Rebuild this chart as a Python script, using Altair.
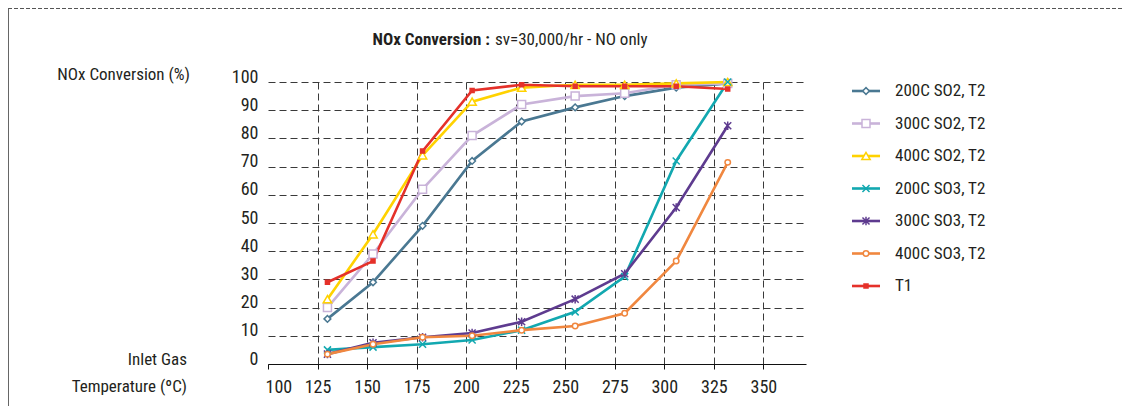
import altair as alt
import pandas as pd

series = ["200C SO2, T2", "300C SO2, T2", "400C SO2, T2",
          "200C SO3, T2", "300C SO3, T2", "400C SO3, T2", "T1"]
temps = [130, 153, 178, 203, 228, 255, 280, 306, 332]
so2_200 = [16, 29, 49, 72, 86, 91, 95, 98, 99.5]
so2_300 = [20, 39, 62, 81, 92, 95, 96, 99, 99.5]
so2_400 = [23, 46, 74, 93, 98, 99, 99, 99.5, 100]
so3_200 = [5, 6, 7, 8.5, 12, 18.5, 31, 72, 100]
so3_300 = [3.5, 7.5, 9.5, 11, 15, 23, 32, 55.5, 84.5]
so3_400 = [3.5, 7, 9.5, 10, 12, 13.5, 18, 36.5, 71.5]
t1 = [29, 36.5, 75.5, 97, 99, 98.5, 98.5, 98.5, 97.5]
x_ticks = [100, 125, 150, 175, 200, 225, 250, 275, 300, 325, 350]
y_ticks = [0, 10, 20, 30, 40, 50, 60, 70, 80, 90, 100]

colors = ["#4a7892", "#c9b3d9", "#ffd200", "#12a8b0", "#5e3b8f", "#f0873f", "#e5312a"]
X_PATH = "M-1,-1L1,1M-1,1L1,-1"
AST_PATH = "M-1,-1L1,1M-1,1L1,-1M0,-1.2L0,1.2"
shapes = ["diamond", "square", "triangle-up", X_PATH, AST_PATH, "circle", "square"]
fills = ["white", "white", "white", "white", "white", "white", "#e5312a"]
sizes = [45, 64, 70, 50, 50, 30, 16]

FONT = "Roboto Condensed, Liberation Sans Narrow, Roboto, sans-serif"
TXT = "#231f20"
FS = 17
AFS = 18

values = [so2_200, so2_300, so2_400, so3_200, so3_300, so3_400, t1]
rows = []
for s, vals, sz in zip(series, values, sizes):
    for t, v in zip(temps, vals):
        rows.append({"series": s, "temp": t, "value": v, "msize": sz})
df = pd.DataFrame(rows)
leg_df = pd.DataFrame({"series": series, "msize": sizes})

W, H = 538, 282
xs = alt.Scale(domain=[100, 371.5], nice=False, zero=False)
ys = alt.Scale(domain=[0, 100], nice=False)
col_s = alt.Scale(domain=series, range=colors)
shp_s = alt.Scale(domain=series, range=shapes)
fill_s = alt.Scale(domain=series, range=fills)

X = alt.X("temp:Q", scale=xs, title=None,
          axis=alt.Axis(values=x_ticks, grid=True, gridDash=[7, 4], gridColor="#3a3a3a",
                        gridOpacity={"condition": {"test": "datum.value === 100", "value": 0}, "value": 1},
                        labelOffset={"condition": {"test": "datum.value === 100", "value": -3}, "value": 0},
                        domainColor="#111", tickColor="#111", tickSize=5, labelPadding=9,
                        labelFontSize=AFS))
Y = alt.Y("value:Q", scale=ys, title=None,
          axis=alt.Axis(values=y_ticks, grid=True, gridDash=[7, 4], gridColor="#3a3a3a",
                        domain=False, ticks=False, labelPadding=10, labelOffset=-5,
                        labelFontSize=AFS))

base = alt.Chart(df)
lines = base.mark_line(strokeWidth=2.6).encode(
    x=X, y=Y,
    color=alt.Color("series:N", scale=col_s, legend=None),
)
points = base.mark_point(opacity=1, fillOpacity=1, strokeWidth=1.5).encode(
    x=X, y=Y,
    shape=alt.Shape("series:N", scale=shp_s, legend=None),
    fill=alt.Fill("series:N", scale=fill_s, legend=None),
    stroke=alt.Stroke("series:N", scale=col_s, legend=None),
    size=alt.Size("msize:Q", scale=None),
)
main = alt.layer(lines, points)

LY = alt.Y("series:N", scale=alt.Scale(type="point", domain=series, range=[9, 204], padding=0), axis=None)
leg_base = alt.Chart(leg_df)
leg_rule = leg_base.mark_rule(strokeWidth=2.6).encode(
    x=alt.value(584), x2=alt.value(612), y=LY,
    color=alt.Color("series:N", scale=col_s, legend=None),
)
leg_pt = leg_base.mark_point(opacity=1, fillOpacity=1, strokeWidth=1.5).encode(
    x=alt.value(598), y=LY,
    shape=alt.Shape("series:N", scale=shp_s, legend=None),
    fill=alt.Fill("series:N", scale=fill_s, legend=None),
    stroke=alt.Stroke("series:N", scale=col_s, legend=None),
    size=alt.Size("msize:Q", scale=None),
)
leg_txt = leg_base.mark_text(align="left", baseline="middle", font=FONT, fontSize=FS, color=TXT).encode(
    x=alt.value(627), y=LY, text="series:N",
)
legend = alt.layer(leg_rule, leg_pt, leg_txt)


def label(txt, x, y, align="left", bold=False, size=FS):
    return alt.Chart(pd.DataFrame({"t": [txt]})).mark_text(
        align=align, baseline="middle", font=FONT, fontSize=size,
        fontWeight="bold" if bold else "normal", color=TXT,
    ).encode(x=alt.value(x), y=alt.value(y), text="t:N")


title_b = label("NOx Conversion :", 222, -42, align="right", bold=True)
title_r = label("sv=30,000/hr - NO only", 227, -42, align="left")
ytitle = label("NOx Conversion (%)", -78, -7, align="right")
xt1 = label("Inlet Gas", -81, 278, align="right")
xt2 = label("Temperature (ºC)", -81, 305, align="right")

one = pd.DataFrame({"a": [0]})
frame_top = alt.Chart(one).mark_rule(strokeDash=[4, 2], color="#555", strokeWidth=1).encode(
    x=alt.value(-260), x2=alt.value(856), y=alt.value(-73.5))
frame_left = alt.Chart(one).mark_rule(color="#666", strokeWidth=1).encode(
    x=alt.value(-259.5), y=alt.value(-73.5), y2=alt.value(324))

chart = alt.layer(
    main, legend,
    title_b, title_r, ytitle, xt1, xt2, frame_top, frame_left,
).resolve_scale(y="independent").properties(
    width=W, height=H,
    autosize=alt.AutoSizeParams(type="none"),
    padding={"left": 260, "top": 74, "right": 318, "bottom": 42},
).configure_view(stroke=None).configure_axis(
    labelFont=FONT, labelColor=TXT,
)

chart.save("out.html", embed_options={"renderer": "svg", "actions": False})
